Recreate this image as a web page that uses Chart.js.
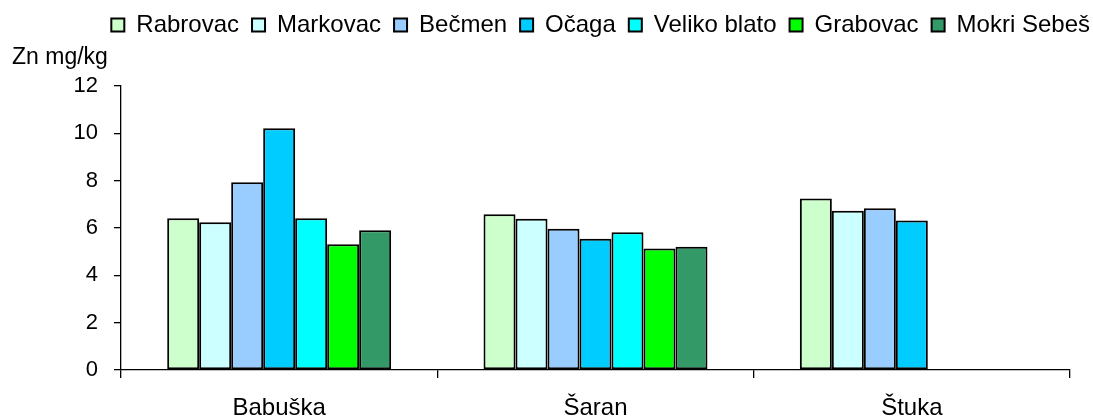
<!DOCTYPE html>
<html>
<head>
<meta charset="utf-8">
<script src="https://cdn.jsdelivr.net/npm/chart.js@4"></script>
<style>
  html, body { margin: 0; padding: 0; background: #fff; }
  #wrap { width: 1093px; height: 419px; }
</style>
</head>
<body>
<div id="wrap"><canvas id="zn"></canvas></div>
<script>
var fishes = ["Babuška", "Šaran", "Štuka"];
var sites = ["Rabrovac", "Markovac", "Bečmen", "Očaga", "Veliko blato", "Grabovac", "Mokri Sebeš"];
var siteColors = ["#CCFFCC", "#CCFFFF", "#99CCFF", "#00CCFF", "#00FFFF", "#00FF00", "#339966"];

// Zn mg/kg per site, in order Babuška, Šaran, Štuka
var rabrovac    = [6.41, 6.58, 7.25];
var markovac    = [6.24, 6.39, 6.73];
var becmen      = [7.93, 5.97, 6.83];
var ocaga       = [10.21, 5.55, 6.32];
var velikoBlato = [6.41, 5.82, null];
var grabovac    = [5.31, 5.13, null];
var mokriSebes  = [5.90, 5.21, null];

var yTicks = [0, 2, 4, 6, 8, 10, 12];

var seriesValues = [rabrovac, markovac, becmen, ocaga, velikoBlato, grabovac, mokriSebes];

var datasets = [];
for (var i = 0; i < sites.length; i++) {
  datasets.push({
    label: sites[i],
    data: seriesValues[i],
    backgroundColor: siteColors[i],
    borderColor: "#000",
    borderWidth: 2,
    borderSkipped: false,
    categoryPercentage: 0.708,
    barPercentage: 1.0
  });
}

var fontFamily = "'Liberation Sans', Arial, sans-serif";

// title above the y axis
var axisTitle = {
  id: "axisTitle",
  afterDraw: function(chart){
    var c = chart.ctx;
    c.save();
    c.fillStyle = "#000";
    c.font = "23px " + fontFamily;
    c.textBaseline = "alphabetic";
    c.fillText("Zn mg/kg", 12, 64);
    c.restore();
  }
};

// fixed legend band height, and push the legend to the right edge
var legendBand = {
  id: "legendBand",
  beforeInit: function(chart){
    var fit = chart.legend.fit;
    chart.legend.fit = function(){
      fit.bind(chart.legend)();
      this.height = 86;
    };
  },
  afterLayout: function(chart){
    chart.legend.left += 33;
    chart.legend.right += 33;
  }
};

var chart = new Chart(document.getElementById("zn"), {
  type: "bar",
  data: { labels: fishes, datasets: datasets },
  plugins: [axisTitle, legendBand],
  options: {
    responsive: true,
    maintainAspectRatio: false,
    animation: false,
    layout: { padding: { left: 0, right: 23, top: 0, bottom: 0 } },
    plugins: {
      tooltip: { enabled: false },
      legend: {
        position: "top",
        align: "end",
        labels: {
          color: "#000",
          font: { family: fontFamily, size: 24 },
          boxWidth: 13,
          boxHeight: 13,
          padding: 13
        }
      }
    },
    scales: {
      x: {
        grid: {
          offset: true,
          drawOnChartArea: false,
          drawTicks: true,
          tickLength: 8,
          color: "#000",
          lineWidth: 1.3
        },
        border: { display: true, color: "#000", width: 1.3 },
        ticks: {
          color: "#000",
          padding: 16,
          font: { family: fontFamily, size: 24 }
        },
        afterFit: function(scale){ scale.height = 49; }
      },
      y: {
        min: 0,
        max: 12,
        afterBuildTicks: function(scale){
          scale.ticks = yTicks.map(function(v){ return { value: v }; });
        },
        grid: {
          drawOnChartArea: false,
          drawTicks: true,
          tickLength: 7,
          color: "#000",
          lineWidth: 1.3
        },
        border: { display: true, color: "#000", width: 1.3 },
        ticks: {
          color: "#000",
          padding: 16,
          font: { family: fontFamily, size: 22 }
        },
        afterFit: function(scale){ scale.width = 121; }
      }
    }
  }
});
</script>
</body>
</html>
